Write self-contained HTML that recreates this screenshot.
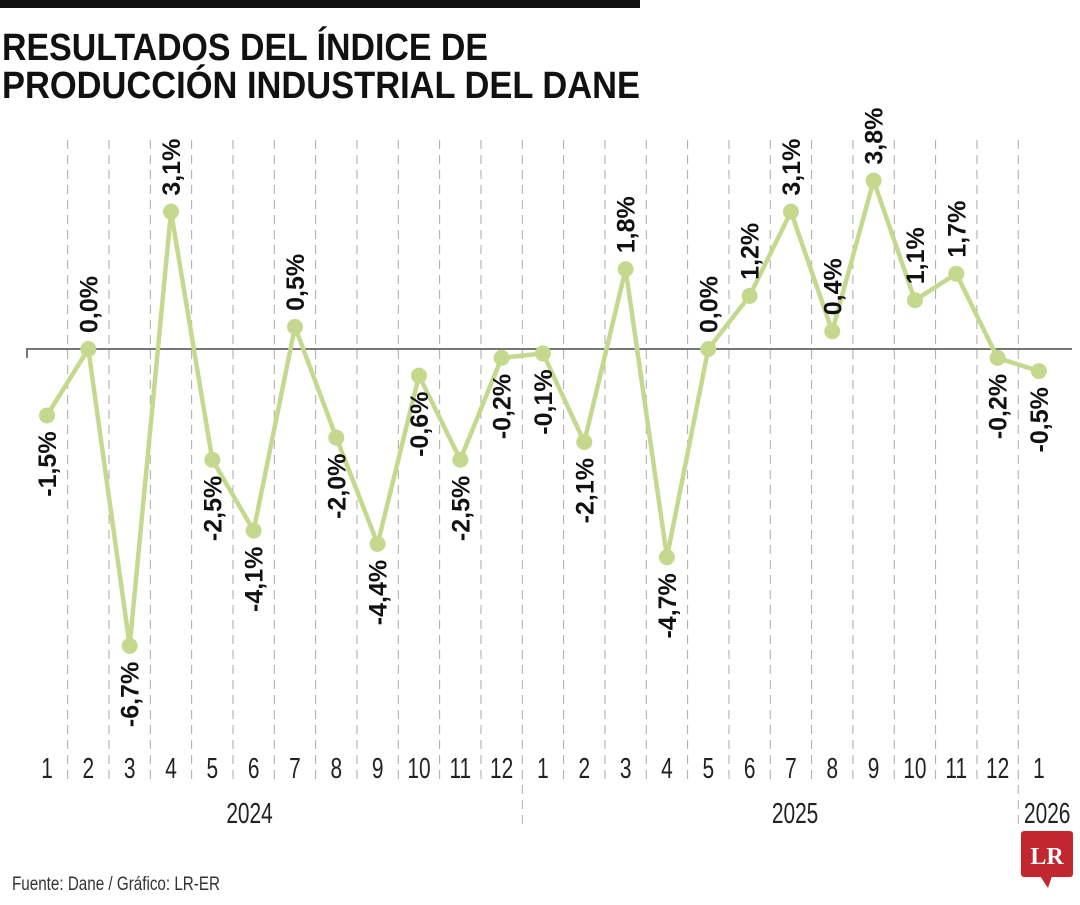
<!DOCTYPE html>
<html><head><meta charset="utf-8"><style>
html,body{margin:0;padding:0;background:#fff;}
body{width:1080px;height:900px;overflow:hidden;position:relative;font-family:"Liberation Sans",sans-serif;}
</style></head><body>
<svg width="1080" height="900" xmlns="http://www.w3.org/2000/svg">
<rect x="0" y="0" width="640" height="8" fill="#111"/>
<g font-family="'Liberation Sans',sans-serif" font-weight="bold" font-size="38" fill="#111">
<text x="2" y="60" textLength="486" lengthAdjust="spacingAndGlyphs">RESULTADOS DEL ÍNDICE DE</text>
<text x="2" y="98" textLength="638" lengthAdjust="spacingAndGlyphs">PRODUCCIÓN INDUSTRIAL DEL DANE</text>
</g>
<g id="grid"></g>
<g id="marks"></g>
<text x="12" y="890" font-size="19" fill="#333" textLength="208" lengthAdjust="spacingAndGlyphs">Fuente: Dane / Gráfico: LR-ER</text>
<g>
<rect x="1021" y="831" width="52" height="46" rx="3" fill="#c1272d"/>
<polygon points="1040,876 1052,876 1048,888" fill="#c1272d"/>
<text x="1047" y="864" text-anchor="middle" font-family="'Liberation Serif',serif" font-weight="bold" font-size="24" fill="#fff">LR</text>
</g>
</svg>
<script>
const months = ["1","2","3","4","5","6","7","8","9","10","11","12","1","2","3","4","5","6","7","8","9","10","11","12","1"];
const values = [-1.5,0.0,-6.7,3.1,-2.5,-4.1,0.5,-2.0,-4.4,-0.6,-2.5,-0.2,-0.1,-2.1,1.8,-4.7,0.0,1.2,3.1,0.4,3.8,1.1,1.7,-0.2,-0.5];
const labels = ["-1,5%","0,0%","-6,7%","3,1%","-2,5%","-4,1%","0,5%","-2,0%","-4,4%","-0,6%","-2,5%","-0,2%","-0,1%","-2,1%","1,8%","-4,7%","0,0%","1,2%","3,1%","0,4%","3,8%","1,1%","1,7%","-0,2%","-0,5%"];
const years = ["2024","2025","2026"];
const yearCenter = [4.9,18.1,24.2];

const NS="http://www.w3.org/2000/svg";
const xs = i => 47 + 41.33*i;
const ys = v => 349 - 44.3*v;
function mk(tag, attrs, parent){const e=document.createElementNS(NS,tag);for(const k in attrs)e.setAttribute(k,attrs[k]);parent.appendChild(e);return e;}
const grid=document.getElementById('grid'), marks=document.getElementById('marks');

for(let i=0;i<months.length;i++){
  const x=xs(i)+20.66;
  if(i<months.length-1){
    const isYear = (i===11||i===23);
    const l=mk('line',{x1:x,x2:x,y1:140,y2:isYear?828:785,stroke:'#aaa','stroke-width':1,'stroke-dasharray':'9,6'},grid);
    
    
  }
  const t=mk('text',{x:0,y:0,'text-anchor':'middle','font-size':29,fill:'#222',transform:'translate('+xs(i)+',778) scale(0.72,1)'},grid);
  t.textContent=months[i];
  
  
}
const ax=mk('line',{x1:26,x2:1072,y1:349,y2:349,stroke:'#777','stroke-width':2},grid);


const tk=mk('line',{x1:27,x2:27,y1:348,y2:358,stroke:'#777','stroke-width':2},grid);



for(let j=0;j<years.length;j++){
  const cx=xs(yearCenter[j]);
  const t=mk('text',{x:0,y:0,'text-anchor':'middle','font-size':29,fill:'#222',transform:'translate('+cx+',823) scale(0.72,1)'},grid);
  t.textContent=years[j];
  
  
}

const pts=values.map((v,i)=>xs(i)+','+ys(v)).join(' ');
const pl=mk('polyline',{points:pts,fill:'none',stroke:'#c5d98e','stroke-width':4.5,'stroke-linejoin':'miter'},marks);



values.forEach((v,i)=>{
  const x=xs(i), y=ys(v);
  const c=mk('circle',{cx:x,cy:y,r:8,fill:'#c5d98e'},marks);
  
  
  const neg = labels[i].charAt(0)==='-';
  const ly = neg ? y+16 : y-16;
  const t=mk('text',{x:0,y:0,'text-anchor':neg?'end':'start','font-size':25,'font-weight':'bold',fill:'#111',
    transform:'translate('+(x+9)+','+ly+') rotate(-90)'},marks);
  t.textContent=labels[i];
  
  
});
</script>
</body></html>
